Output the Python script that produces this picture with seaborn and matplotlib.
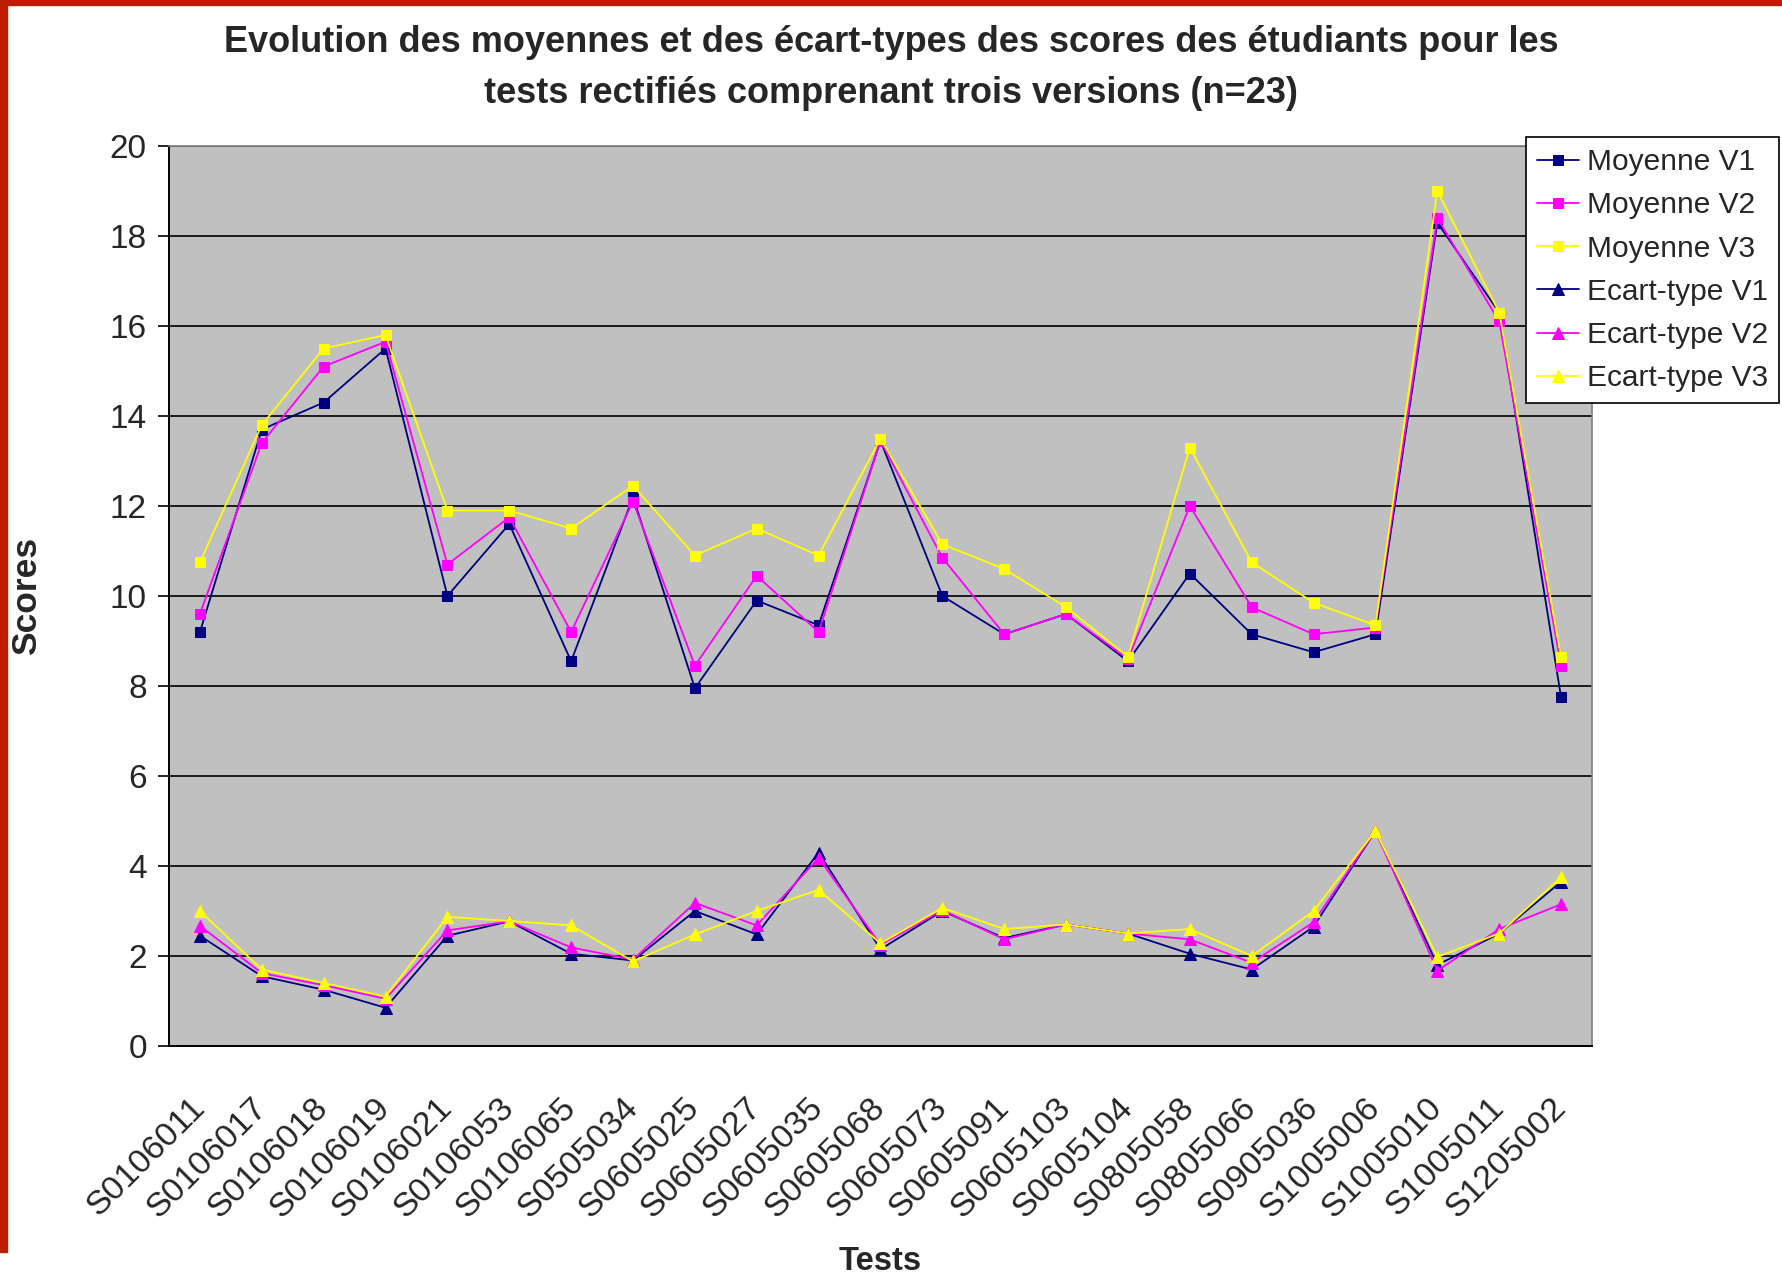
import numpy as np
import pandas as pd
import matplotlib
matplotlib.use('Agg')
import matplotlib.pyplot as plt
import matplotlib.transforms as mtransforms
from matplotlib.patches import Rectangle
import seaborn as sns

# tests (catégories)
tests = ['S0106011', 'S0106017', 'S0106018', 'S0106019', 'S0106021', 'S0106053',
         'S0106065', 'S0505034', 'S0605025', 'S0605027', 'S0605035', 'S0605068',
         'S0605073', 'S0605091', 'S0605103', 'S0605104', 'S0805058', 'S0805066',
         'S0905036', 'S1005006', 'S1005010', 'S1005011', 'S1205002']

moy_v1 = [9.2, 13.7, 14.3, 15.5, 10.0, 11.6, 8.55, 12.2, 7.95, 9.9, 9.35, 13.45,
          10.0, 9.15, 9.6, 8.55, 10.5, 9.15, 8.75, 9.15, 18.3, 16.3, 7.75]
moy_v2 = [9.6, 13.4, 15.1, 15.65, 10.7, 11.75, 9.2, 12.1, 8.45, 10.45, 9.2, 13.45,
          10.85, 9.15, 9.6, 8.6, 12.0, 9.75, 9.15, 9.3, 18.4, 16.1, 8.45]
moy_v3 = [10.75, 13.8, 15.5, 15.8, 11.9, 11.9, 11.5, 12.45, 10.9, 11.5, 10.9, 13.5,
          11.15, 10.6, 9.75, 8.65, 13.3, 10.75, 9.85, 9.35, 19.0, 16.3, 8.65]
et_v1 = [2.45, 1.55, 1.25, 0.85, 2.45, 2.77, 2.05, 1.9, 3.0, 2.48, 4.3, 2.15,
         3.0, 2.4, 2.7, 2.5, 2.05, 1.7, 2.65, 4.78, 1.8, 2.5, 3.65]
et_v2 = [2.67, 1.62, 1.35, 1.05, 2.57, 2.77, 2.19, 1.92, 3.18, 2.68, 4.18, 2.25,
         3.02, 2.37, 2.7, 2.5, 2.37, 1.85, 2.75, 4.78, 1.67, 2.6, 3.15]
et_v3 = [3.0, 1.7, 1.4, 1.1, 2.87, 2.78, 2.68, 1.88, 2.48, 3.0, 3.47, 2.28,
         3.07, 2.6, 2.7, 2.5, 2.6, 2.0, 3.0, 4.78, 1.98, 2.5, 3.75]

series = [('Moyenne V1', moy_v1, '#000080', 's'),
          ('Moyenne V2', moy_v2, '#FF00FF', 's'),
          ('Moyenne V3', moy_v3, '#FFFF00', 's'),
          ('Ecart-type V1', et_v1, '#000080', '^'),
          ('Ecart-type V2', et_v2, '#FF00FF', '^'),
          ('Ecart-type V3', et_v3, '#FFFF00', '^')]

sns.set_style('white')
plt.rcParams['font.family'] = ['Liberation Sans', 'DejaVu Sans']

fig = plt.figure(figsize=(17.82, 12.79), dpi=100)
ax = fig.add_axes([169 / 1782, 1 - 1046 / 1279, (1592 - 169) / 1782, (1046 - 146) / 1279])
ax.set_facecolor('#C0C0C0')

x = np.arange(len(tests))
for nom, vals, coul, mk in series:
    df = pd.DataFrame({'x': x, 'y': vals})
    sns.lineplot(data=df, x='x', y='y', ax=ax, color=coul, linewidth=1.3,
                 marker=mk, markersize=7 if mk == 's' else 8,
                 markeredgecolor=coul, label=nom)

# axes
ax.set_ylim(0, 20)
ax.set_xlim(-0.5, len(tests) - 0.5)
ax.set_yticks(np.arange(0, 21, 2))
ax.set_yticklabels([str(v) for v in range(0, 21, 2)], fontsize=24)
ax.yaxis.grid(True, color='#1a1a1a', linewidth=1.4)
ax.set_axisbelow(True)
ax.set_xticks(x)
ax.set_xticklabels(tests, rotation=45, ha='right', va='center',
                   rotation_mode='anchor', fontsize=24.5)
decal = mtransforms.ScaledTranslation(-16 / 100, 0, fig.dpi_scale_trans)
for lab in ax.get_xticklabels():
    lab.set_transform(lab.get_transform() + decal)
ax.set_xticks(np.arange(-0.5, len(tests)), minor=True)
ax.tick_params(axis='x', which='major', length=0, pad=41)
ax.tick_params(axis='x', which='minor', length=9, width=1.2, color='black', direction='out')
ax.tick_params(axis='y', length=8, width=1.2, color='black', direction='out', pad=8, left=True)

for s in ['left', 'bottom']:
    ax.spines[s].set_color('black')
    ax.spines[s].set_linewidth(1.4)
for s in ['top', 'right']:
    ax.spines[s].set_color('#808080')
    ax.spines[s].set_linewidth(1.2)

ax.set_xlabel('Tests', fontsize=23.5, fontweight='bold', labelpad=16)
ax.set_ylabel('Scores', fontsize=25.5, fontweight='bold', labelpad=48)

fig.suptitle("Evolution des moyennes et des écart-types des scores des étudiants pour les\n"
             "tests rectifiés comprenant trois versions (n=23)",
             x=0.5, y=1 - 25 / 1279, fontsize=26, fontweight='bold', linespacing=1.6)

leg = ax.legend(loc='upper left', bbox_to_anchor=(1526 / 1782, 1 - 137 / 1279),
                bbox_transform=fig.transFigure, fontsize=21.5, frameon=True,
                fancybox=False, edgecolor='black', framealpha=1, borderaxespad=0,
                handlelength=1.4, labelspacing=0.51, borderpad=0.37, handletextpad=0.27)
leg.get_frame().set_linewidth(1.2)

# bordure rouge
rouge = '#BE1E00'
fig.patches.append(Rectangle((0, 1 - 5 / 1279), 1, 5 / 1279, transform=fig.transFigure,
                             color=rouge, zorder=10))
fig.patches.append(Rectangle((0, 1 - 1252 / 1279), 7 / 1782, 1252 / 1279,
                             transform=fig.transFigure, color=rouge, zorder=10))

fig.savefig('out.png', dpi=100)
